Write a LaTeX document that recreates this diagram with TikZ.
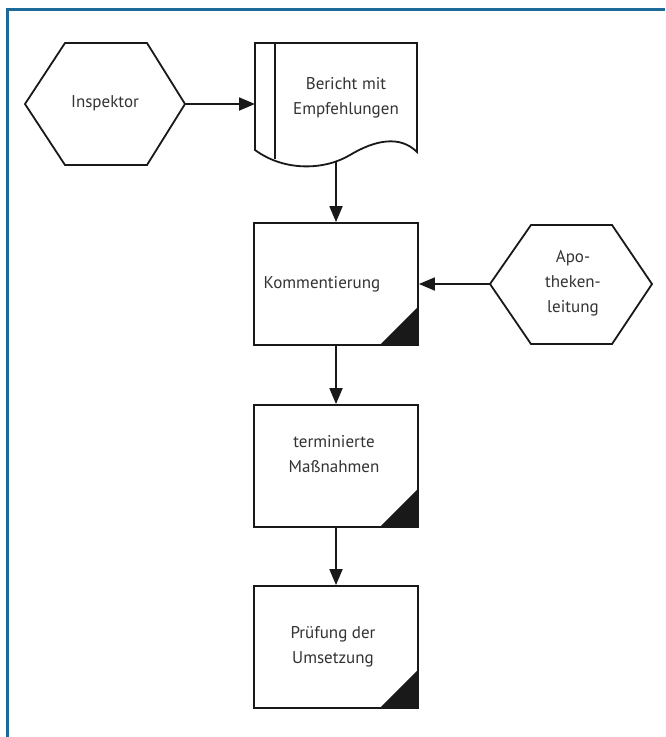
\documentclass[tikz,border=0pt]{standalone}
\usepackage{fontspec}
\setmainfont{PT Sans}
\usetikzlibrary{arrows.meta,calc}
\definecolor{frameblue}{HTML}{1D6A99}
\definecolor{txt}{HTML}{333333}
\begin{document}
\begin{tikzpicture}[x=1pt,y=-1pt,
  shapeline/.style={draw=black!90,line width=1.8pt,line join=miter},
  arr/.style={draw=black!90,line width=1.8pt,-{Triangle[length=16pt,width=13pt]}},
  lbl/.style={font=\fontsize{17}{25}\selectfont,text=txt,align=center,inner sep=0pt},
  taskbox/.style={shapeline,minimum width=164pt,minimum height=122pt,inner sep=0pt,fill=white},
  corner/.style={fill=black!90},
  frameline/.style={draw=frameblue,line width=2.5pt}]
\useasboundingbox (0,0) rectangle (665,737);
% frame
\draw[frameline] (7.5,737) -- (7.5,9.5) -- (665,9.5);

% Inspektor hexagon
\coordinate (iw) at (25,104);
\coordinate (ie) at (185,104);
\draw[shapeline] (iw) -- (65,43) -- (147,43) -- (ie) -- (147,165) -- (65,165) -- cycle;
\node[lbl] (insp) at (105,103) {Inspektor};

% document
\coordinate (dw) at (255,104);
\coordinate (db) at (336,162);
\draw[shapeline] (255,150) -- (255,43) -- (417,43) -- (417,152)
  .. controls (400,135) and (375,140) .. (350,155)
  .. controls (325,170) and (285,172) .. cycle;
\draw[shapeline] (275,43) -- (275,159);
\node[lbl] (doc) at (346,98) {Bericht mit\\Empfehlungen};

% Kommentierung
\node[taskbox] (k) at (336,284) {};
\fill[corner] (k.south east) -- ++(-40,0) -- ++(40,-40) -- cycle;
\node[lbl] (kt) at (322,284) {Kommentierung};

% terminierte Massnahmen
\node[taskbox] (m) at (336,466) {};
\fill[corner] (m.south east) -- ++(-40,0) -- ++(40,-40) -- cycle;
\node[lbl] (mt) at (334,454) {terminierte\\Maßnahmen};

% Pruefung
\node[taskbox] (p) at (336,647) {};
\fill[corner] (p.south east) -- ++(-40,0) -- ++(40,-40) -- cycle;
\node[lbl] (pt) at (333,647) {Prüfung der\\Umsetzung};

% Apothekenleitung hexagon
\coordinate (aw) at (490,284);
\coordinate (ae) at (652,284);
\draw[shapeline] (aw) -- (531,225) -- (612,225) -- (ae) -- (612,344) -- (531,344) -- cycle;
\node[lbl] (apo) at (573,283) {Apo-\\theken-\\leitung};

% connectors
\draw[arr] (ie) -- (dw);
\draw[arr] (db) -- (k.north);
\draw[arr] (aw) -- (k.east);
\draw[arr] (k.south) -- (m.north);
\draw[arr] (m.south) -- (p.north);
\end{tikzpicture}
\end{document}
